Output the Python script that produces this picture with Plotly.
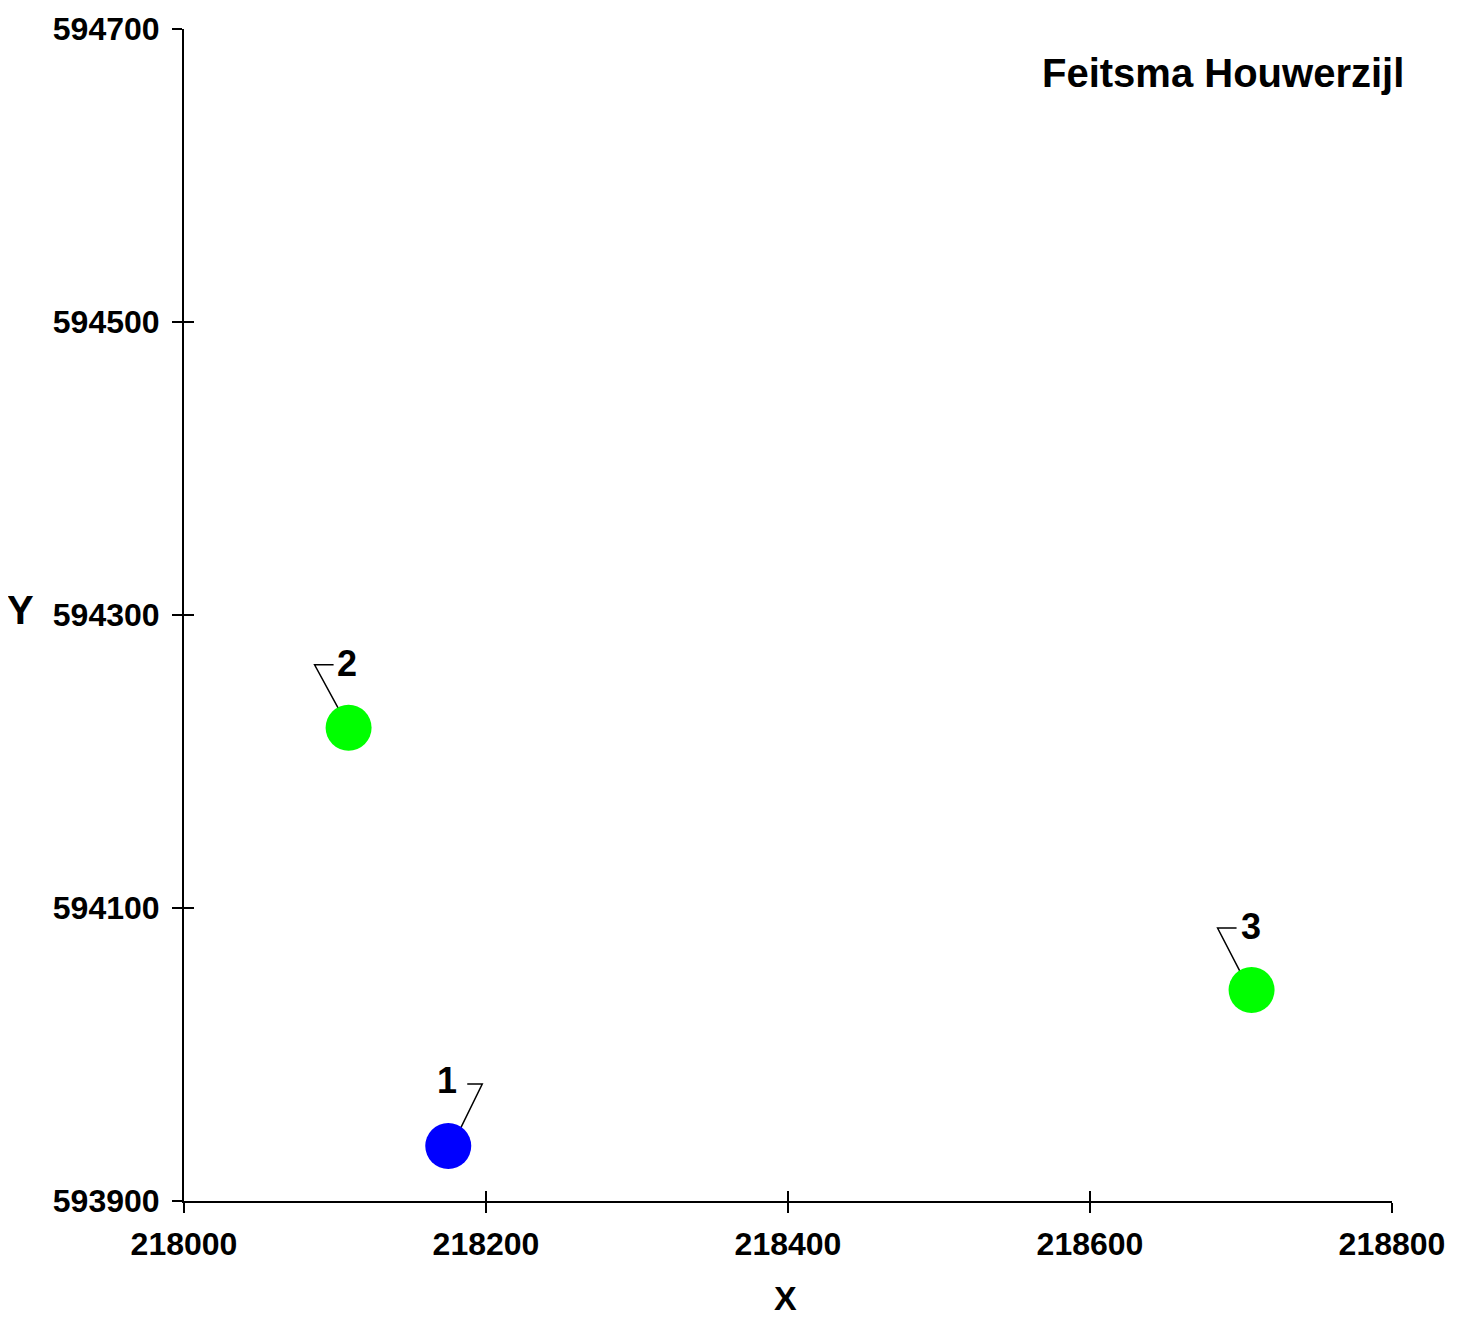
import plotly.graph_objects as go

# ---- data ----
point_labels = ["1", "2", "3"]
x_vals = [218175, 218109, 218707]
y_vals = [593937.5, 594223, 594044]
point_colors = ["#0000FF", "#00FF00", "#00FF00"]

x_ticks = [218000, 218200, 218400, 218600, 218800]
y_ticks = [593900, 594100, 594300, 594500, 594700]
title_text = "Feitsma Houwerzijl"

# ---- layout constants ----
W, H = 1464, 1320
ML, MR, MT, MB = 176, 80, 21, 127
XR = [218000, 218800]
YR = [593900, 594700]
FONT = "Liberation Sans, Arial, sans-serif"

plot_w = W - ML - MR
plot_h = H - MT - MB
sx = (XR[1] - XR[0]) / plot_w  # data units per pixel
sy = (YR[1] - YR[0]) / plot_h

# leader line pixel offsets (start, elbow, end) relative to each point
leader_px = [
    [(7, 7), (34, 62), (19, 62)],
    [(-4, 8), (-34, 63), (-15, 63)],
    [(-5, 6), (-34, 62), (-15, 62)],
]
label_shift = [(-1, 66), (-2, 64), (-1, 64)]

fig = go.Figure()

# leader lines
lx, ly = [], []
for xv, yv, offs in zip(x_vals, y_vals, leader_px):
    for dx, dy in offs:
        lx.append(xv + dx * sx)
        ly.append(yv + dy * sy)
    lx.append(None)
    ly.append(None)
fig.add_trace(go.Scatter(x=lx, y=ly, mode="lines",
                         line=dict(color="black", width=1.5),
                         hoverinfo="skip", showlegend=False))

fig.add_trace(go.Scatter(x=x_vals, y=y_vals, mode="markers",
                         marker=dict(size=46, color=point_colors, line=dict(width=0)),
                         showlegend=False))

# invisible trace for overlay axes (inside tick halves)
fig.add_trace(go.Scatter(x=[XR[0]], y=[YR[0]], xaxis="x2", yaxis="y2",
                         mode="markers", marker=dict(opacity=0),
                         hoverinfo="skip", showlegend=False))

for lab, xv, yv, (xs, ys) in zip(point_labels, x_vals, y_vals, label_shift):
    fig.add_annotation(x=xv, y=yv, text=lab, showarrow=False,
                       xshift=xs, yshift=ys, xanchor="center", yanchor="middle",
                       font=dict(family=FONT, size=36, color="black", weight="bold"))

fig.add_annotation(xref="paper", yref="paper", x=1, y=1, xanchor="right", yanchor="middle",
                   xshift=14, yshift=-44, text=title_text, showarrow=False,
                   font=dict(family=FONT, size=40, color="black", weight="bold"))
fig.add_annotation(xref="paper", yref="paper", x=0.5, y=0, xanchor="center", yanchor="middle",
                   xshift=-3, yshift=-97, text="X", showarrow=False,
                   font=dict(family=FONT, size=34, color="black", weight="bold"))
fig.add_annotation(xref="paper", yref="paper", x=0, y=0.5, xanchor="center", yanchor="middle",
                   xshift=-164, yshift=5, text="Y", showarrow=False,
                   font=dict(family=FONT, size=40, color="black", weight="bold"))

tickfont = dict(family=FONT, size=32, color="black", weight="bold")
axis_common = dict(showgrid=False, zeroline=False, showline=True, linecolor="black",
                   linewidth=2, ticks="outside", ticklen=10, tickwidth=2, tickcolor="black",
                   tickfont=tickfont, automargin=False)

fig.update_layout(
    width=W, height=H,
    margin=dict(l=ML, r=MR, t=MT, b=MB, pad=0),
    paper_bgcolor="white", plot_bgcolor="white",
    xaxis=dict(range=XR, tickvals=x_ticks, ticktext=[str(v) for v in x_ticks],
               ticklabelstandoff=4, **axis_common),
    yaxis=dict(range=YR, tickvals=y_ticks, ticktext=[str(v) for v in y_ticks],
               ticklabelstandoff=6, **axis_common),
    xaxis2=dict(range=XR, overlaying="x", anchor="y2", side="bottom", showgrid=False,
                zeroline=False, showline=False, ticks="inside", ticklen=10, tickwidth=2,
                tickcolor="black", tickvals=x_ticks, showticklabels=False, automargin=False),
    yaxis2=dict(range=YR, overlaying="y", anchor="x2", side="left", showgrid=False,
                zeroline=False, showline=False, ticks="inside", ticklen=10, tickwidth=2,
                tickcolor="black", tickvals=y_ticks, showticklabels=False, automargin=False),
    showlegend=False,
)

fig.write_html("out.html")
